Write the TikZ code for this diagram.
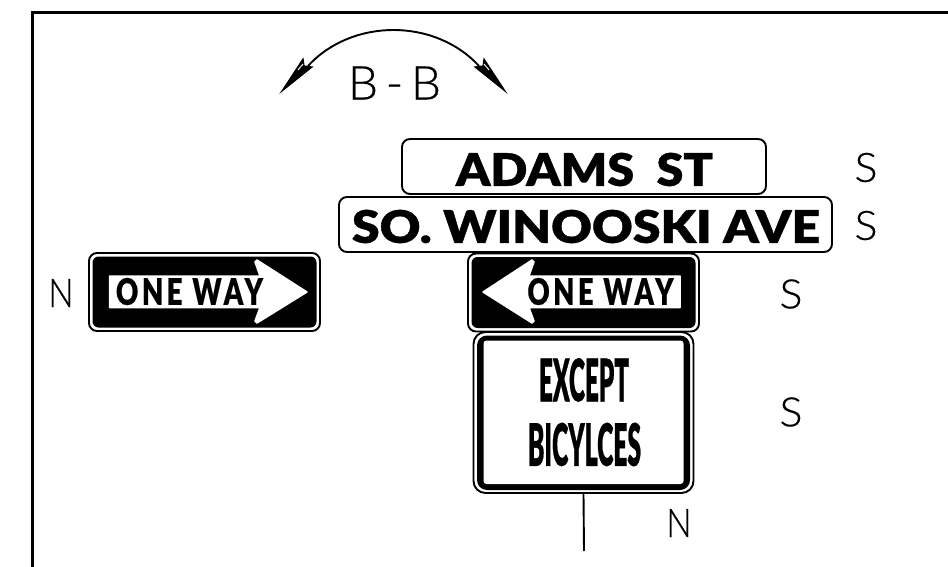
\documentclass[tikz,border=0pt]{standalone}
\usepackage{graphicx}
\usepackage{fontspec}
\setmainfont{Liberation Sans}
\newfontfamily\thinfont[FakeBold=0.5]{Lato Light}
\newfontfamily\thinspaced[FakeBold=0.5,LetterSpace=16]{Lato Light}
\newfontfamily\heavyfont{Lato Black}
\newfontfamily\heavybold[FakeBold=0.8]{Lato Black}
\newfontfamily\heavyspaced[LetterSpace=13,FakeBold=0.5]{Lato Black}
\newcommand{\fitbox}[3]{\resizebox{#1pt}{#2pt}{#3}}
\tikzset{
  x=1pt,y=-1pt,
  plate/.style={draw=black,line width=1.9pt,rounded corners=8pt,fill=white,inner sep=0pt,minimum width=#1},
  blackface/.style={fill=black,rounded corners=6pt},
  label/.style={inner sep=0pt,text=black},
  word/.style={inner sep=0pt,text=black},
  arrowshape/.style={fill=white,draw=white,line width=1.5pt,line join=round},
  barb/.style={line width=1.2pt,draw=black,fill=black,line join=miter},
  sliver/.style={line width=0.9pt,draw=white},
  thinline/.style={line width=1.9pt},
}
\begin{document}
\begin{tikzpicture}
\useasboundingbox (0,0) rectangle (948,567);
% frame
\coordinate (fa) at (32.5,567); \coordinate (fb) at (32.5,12.5); \coordinate (fc) at (948,12.5);
\draw[line width=2.2pt,line cap=butt,line join=miter] (fa) -- (fb) -- (fc);
% view arrow
\coordinate (al) at (282,91); \coordinate (ar) at (505,91);
\coordinate (bl) at (308,66); \coordinate (br) at (479,66);
\draw[thinline] (bl) .. controls (352,18) and (435,18) .. (br);
\draw[barb] (al) -- (303,59) -- (304,66) -- (312,67) -- cycle;
\draw[barb] (ar) -- (484,59) -- (483,66) -- (475,67) -- cycle;
\draw[sliver] (298,70) -- (303,64);
\draw[sliver] (489,70) -- (484,64);
\node[label] (bb) at (394.5,83) {\fitbox{93}{33}{\thinspaced B-B}};
% street name plates
\node[plate=364pt,minimum height=55pt] (adams) at (584,166.5) {};
\node[word] (adamst) at (584.5,169.5) {\fitbox{257}{33}{\heavybold ADAMS\ \ ST}};
\node[plate=493pt,minimum height=55pt] (winooski) at (585.5,224.5) {};
\node[word] (winoot) at (586,226.5) {\fitbox{468}{33}{\heavybold SO. WINOOSKI AVE}};
% right one way
\node[plate=231pt,minimum height=78pt] (oneR) at (204.5,292) {};
\fill[blackface] (92.5,256.5) rectangle (316.5,327.5);
\draw[arrowshape] (109.5,276) -- (260,276) -- (255,262) -- (257,260) -- (307,292) -- (257,323) -- (255,321) -- (260,307.5) -- (109.5,307.5) -- cycle;
\node[word] (oneRt) at (189.5,291.5) {\fitbox{147}{27}{\heavyspaced ONE WAY}};
% left one way
\node[plate=231pt,minimum height=78pt] (oneL) at (583.5,292.5) {};
\fill[blackface] (471.5,257) rectangle (695.5,328);
\draw[arrowshape] (680,276) -- (529,276) -- (534,262) -- (532,260) -- (483,292) -- (532,323) -- (534,321) -- (529,307.5) -- (680,307.5) -- cycle;
\node[word] (oneLt) at (600.5,291.5) {\fitbox{146}{27}{\heavyspaced ONE WAY}};
% except plate
\node[plate=220pt,minimum height=161pt,rounded corners=12pt] (except) at (583.5,412.5) {};
\fill[black,rounded corners=10pt] (477,335.5) rectangle (690,490);
\fill[white,rounded corners=3pt] (483.5,340.5) rectangle (683.5,484);
\node[word] (exceptt) at (584,380) {\fitbox{90}{43}{\heavybold EXCEPT}};
\node[word] (bicyt) at (584.5,444.5) {\fitbox{113}{43}{\heavybold BICYLCES}};
% post
\coordinate (postend) at (584,551);
\draw[thinline] (except.south) -- (postend);
% direction letters
\node[label] (s1) at (866,167.5) {\fitbox{23}{29}{\thinfont S}};
\node[label] (s2) at (866,225.5) {\fitbox{23}{29}{\thinfont S}};
\node[label] (s3) at (791,294) {\fitbox{23}{29}{\thinfont S}};
\node[label] (s4) at (791,412) {\fitbox{23}{29}{\thinfont S}};
\node[label] (n1) at (61,293) {\fitbox{25}{28}{\thinfont N}};
\node[label] (n2) at (679,523) {\fitbox{25}{28}{\thinfont N}};
\end{tikzpicture}
\end{document}
